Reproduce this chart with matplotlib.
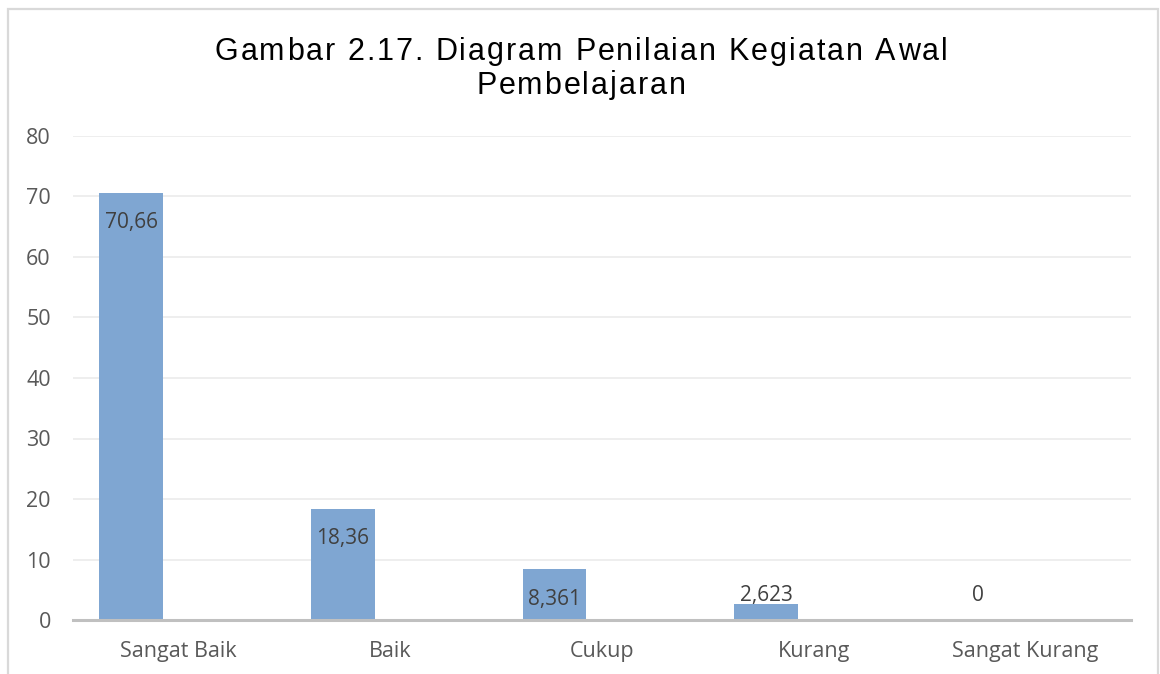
import matplotlib
matplotlib.use("Agg")
import matplotlib.pyplot as plt
from matplotlib.patches import Rectangle
import numpy as np

categories = ["Sangat Baik", "Baik", "Cukup", "Kurang", "Sangat Kurang"]
values = [70.66, 18.36, 8.361, 2.623, 0]
value_labels = ["70,66", "18,36", "8,361", "2,623", "0"]
yticks = [0, 10, 20, 30, 40, 50, 60, 70, 80]
title_lines = ["Gambar 2.17. Diagram Penilaian Kegiatan Awal", "Pembelajaran"]

BAR_COLOR = "#7fa6d2"
TEXT_COLOR = "#595959"
LABEL_COLOR = "#404040"
TICK_FONT = "Open Sans"

fig = plt.figure(figsize=(11.6, 6.74), dpi=100)
W, H = 1160, 674

# outer chart border
fig.patches.append(Rectangle((8 / W, -0.05), 1150 / W, 1 - 9 / H + 0.05,
                             transform=fig.transFigure, fill=False,
                             edgecolor="#d9d9d9", linewidth=1.6))

ax = fig.add_axes([73 / W, 1 - 620 / H, (1131 - 73) / W, (620 - 136) / H])

x = np.arange(len(categories))
bar_x = x - 0.225
ax.bar(bar_x, values, width=0.30, color=BAR_COLOR, zorder=3)

ax.set_xlim(-0.5, len(categories) - 0.5)
ax.set_ylim(0, 80)
ax.set_yticks(yticks)
ax.set_yticklabels([str(t) for t in yticks], fontsize=15.5, family=TICK_FONT, color=TEXT_COLOR)
ax.set_xticks(x)
ax.set_xticklabels(categories, fontsize=15.5, family=TICK_FONT, color=TEXT_COLOR)
ax.tick_params(axis="both", length=0)
ax.tick_params(axis="y", pad=16)
ax.tick_params(axis="x", pad=15)

ax.grid(axis="y", color="#ebebeb", linewidth=1.2, zorder=0)
for s in ["top", "right", "left"]:
    ax.spines[s].set_visible(False)
ax.spines["bottom"].set_color("#c0c0c0")
ax.spines["bottom"].set_linewidth(2.2)
ax.spines["bottom"].set_zorder(4)

for bx, v, lab in zip(bar_x, values, value_labels):
    if v > 5:
        ax.annotate(lab, (bx, v), xytext=(0, -14), textcoords="offset points",
                    ha="center", va="top", fontsize=15, family=TICK_FONT,
                    color=LABEL_COLOR, zorder=5)
    else:
        ax.annotate(lab, (bx, max(v, 2.623)), xytext=(0, -1), textcoords="offset points",
                    ha="center", va="bottom", fontsize=15, family=TICK_FONT,
                    color=LABEL_COLOR, zorder=5)

# title with extra letter spacing (drawn char by char)
renderer = fig.canvas.get_renderer()
title_size = 22
spacing = 2.0  # px between chars
centers_y = [48, 82]
for line, cy in zip(title_lines, centers_y):
    widths = []
    for ch in line:
        t = fig.text(0, 0, ch if ch != " " else "a a", fontsize=title_size, family="Liberation Sans")
        w = t.get_window_extent(renderer).width
        if ch == " ":
            t2 = fig.text(0, 0, "aa", fontsize=title_size, family="Liberation Sans")
            w = w - t2.get_window_extent(renderer).width
            t2.remove()
        t.remove()
        widths.append(w)
    total = sum(widths) + spacing * (len(line) - 1)
    xpos = 581 - total / 2
    for ch, w in zip(line, widths):
        if ch != " ":
            fig.text(xpos / W, 1 - cy / H, ch, fontsize=title_size, family="Liberation Sans",
                     ha="left", va="center_baseline", color="black")
        xpos += w + spacing

fig.savefig("out.png", dpi=100)
